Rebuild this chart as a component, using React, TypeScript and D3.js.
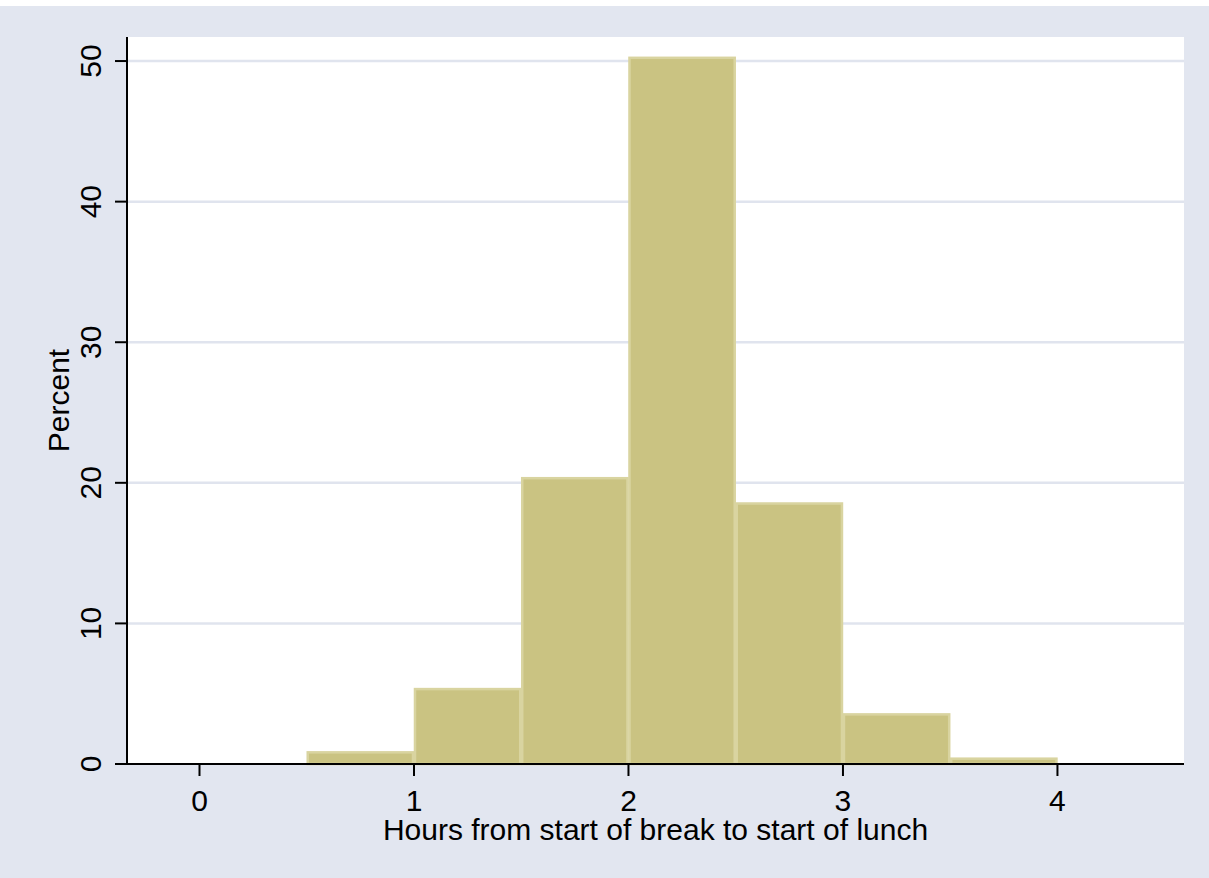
import React from "react";
import * as d3 from "d3";

const binStarts = [0.5, 1, 1.5, 2, 2.5, 3, 3.5];
const binWidth = 0.5;
const percents = [0.9, 5.4, 20.4, 50.3, 18.6, 3.6, 0.45];
const xTicks = [0, 1, 2, 3, 4];
const yTicks = [0, 10, 20, 30, 40, 50];
const xTitle = "Hours from start of break to start of lunch";
const yTitle = "Percent";

const W = 1209;
const H = 878;
const plot = { left: 127, right: 1184, top: 37, bottom: 764 };
const BG = "#E2E6F0";
const GRID = "#E0E4EE";
const FILL = "#CAC382";
const EDGE = "#D9D4A0";
const FONT = "'Liberation Sans', Arial, Helvetica, sans-serif";
const FS = 30;

export default function App() {
  const x = d3.scaleLinear().domain([-0.338, 4.59]).range([plot.left, plot.right]);
  const y = d3.scaleLinear().domain([0, 51.71]).range([plot.bottom, plot.top]);
  return (
    <svg
      width={W}
      height={H}
      style={{ position: "absolute", left: 0, top: 0, display: "block" }}
    >
      <rect x={0} y={0} width={W} height={H} fill="#ffffff" />
      <rect x={0} y={6} width={W} height={H - 6} fill={BG} />
      <rect
        x={plot.left}
        y={plot.top}
        width={plot.right - plot.left}
        height={plot.bottom - plot.top}
        fill="#ffffff"
      />
      {yTicks
        .filter((t) => t > 0)
        .map((t) => (
          <line
            key={"g" + t}
            x1={plot.left}
            x2={plot.right}
            y1={y(t)}
            y2={y(t)}
            stroke={GRID}
            strokeWidth={2.5}
          />
        ))}
      {binStarts.map((b, i) => (
        <rect
          key={"b" + i}
          x={x(b) + 1}
          y={y(percents[i]) + 1}
          width={x(b + binWidth) - x(b) - 2}
          height={y(0) - y(percents[i]) - 1}
          fill={FILL}
          stroke={EDGE}
          strokeWidth={2.5}
        />
      ))}
      {/* y axis */}
      <line x1={plot.left} x2={plot.left} y1={plot.top} y2={plot.bottom + 1} stroke="#000" strokeWidth={2} />
      {yTicks.map((t) => (
        <g key={"yt" + t}>
          <line x1={plot.left - 12} x2={plot.left} y1={y(t)} y2={y(t)} stroke="#000" strokeWidth={2} />
          <text
            transform={`translate(${plot.left - 26},${y(t)}) rotate(-90)`}
            textAnchor="middle"
            fontFamily={FONT}
            fontSize={FS}
            fill="#000"
          >
            {t}
          </text>
        </g>
      ))}
      {/* x axis */}
      <line x1={plot.left - 1} x2={plot.right} y1={plot.bottom} y2={plot.bottom} stroke="#000" strokeWidth={2} />
      {xTicks.map((t) => (
        <g key={"xt" + t}>
          <line x1={x(t)} x2={x(t)} y1={plot.bottom} y2={plot.bottom + 12} stroke="#000" strokeWidth={2} />
          <text
            x={x(t)}
            y={811}
            textAnchor="middle"
            fontFamily={FONT}
            fontSize={FS}
            fill="#000"
          >
            {t}
          </text>
        </g>
      ))}
      <text
        x={(plot.left + plot.right) / 2}
        y={840}
        textAnchor="middle"
        fontFamily={FONT}
        fontSize={FS}
        fill="#000"
      >
        {xTitle}
      </text>
      <text
        transform={`translate(69,${(plot.top + plot.bottom) / 2}) rotate(-90)`}
        textAnchor="middle"
        fontFamily={FONT}
        fontSize={FS}
        fill="#000"
      >
        {yTitle}
      </text>
    </svg>
  );
}
